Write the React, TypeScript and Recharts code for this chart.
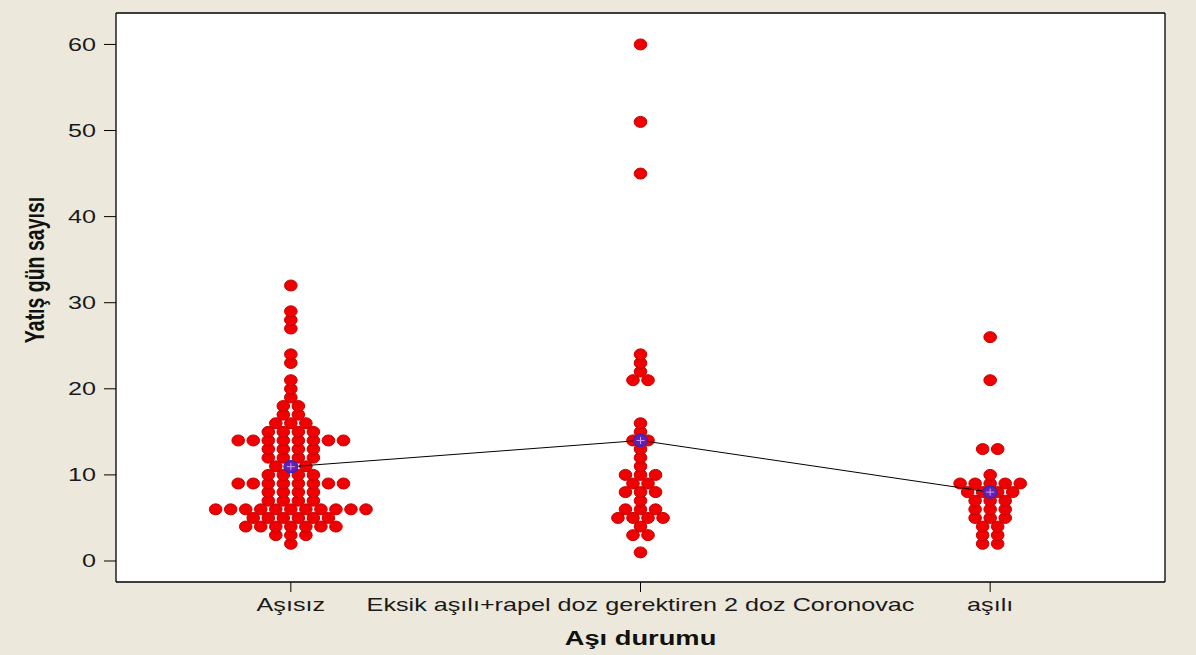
import React from 'react';
import { ScatterChart, Scatter, XAxis, YAxis, CartesianGrid, Label } from 'recharts';

// Categories (x axis)
const CATEGORIES = ['Aşısız', 'Eksik aşılı+rapel doz gerektiren 2 doz Coronovac', 'aşılı'];

// Aşısız: hospital days (value) and how many patients have it (count)
const ASISIZ_VALUES = [2, 3, 4, 5, 6, 7, 8, 9, 10, 11, 12, 13, 14, 15, 16, 17, 18, 19, 20, 21, 23, 24, 27, 28, 29, 32];
const ASISIZ_COUNTS = [1, 3, 7, 6, 11, 4, 4, 8, 4, 3, 4, 4, 8, 4, 3, 2, 2, 1, 1, 1, 1, 1, 1, 1, 1, 1];

// Eksik aşılı + rapel doz gerektiren 2 doz Coronovac
const EKSIK_VALUES = [1, 3, 4, 5, 6, 7, 8, 9, 10, 11, 12, 13, 14, 15, 16, 21, 22, 23, 24, 45, 51, 60];
const EKSIK_COUNTS = [1, 2, 1, 4, 3, 1, 3, 2, 3, 1, 1, 1, 2, 1, 1, 2, 1, 1, 1, 1, 1, 1];

// aşılı
const ASILI_VALUES = [2, 3, 4, 5, 6, 7, 8, 9, 10, 13, 21, 26];
const ASILI_COUNTS = [2, 2, 2, 3, 3, 3, 4, 5, 1, 2, 1, 1];

const Y_TICKS = [0, 10, 20, 30, 40, 50, 60];
const X_TICKS = [0.5, 1.5, 2.5];

const STEP = 0.043; // horizontal stacking step (category units)
const SX = 1.4; // horizontal stretch of text, as in the reference
const FONT = '"Liberation Sans", Arial, sans-serif';

type Pt = { x: number; y: number };

function expand(cat: number, values: number[], counts: number[]): Pt[] {
  const out: Pt[] = [];
  values.forEach((v, i) => {
    const c = counts[i];
    for (let k = 0; k < c; k++) {
      out.push({ x: cat + 0.5 + (k - (c - 1) / 2) * STEP, y: v });
    }
  });
  return out;
}

function mean(values: number[], counts: number[]): number {
  let s = 0;
  let n = 0;
  values.forEach((v, i) => {
    s += v * counts[i];
    n += counts[i];
  });
  return s / n;
}

const POINTS: Pt[] = [
  ...expand(0, ASISIZ_VALUES, ASISIZ_COUNTS),
  ...expand(1, EKSIK_VALUES, EKSIK_COUNTS),
  ...expand(2, ASILI_VALUES, ASILI_COUNTS),
];

const MEANS: Pt[] = [
  { x: 0.5, y: mean(ASISIZ_VALUES, ASISIZ_COUNTS) },
  { x: 1.5, y: mean(EKSIK_VALUES, EKSIK_COUNTS) },
  { x: 2.5, y: mean(ASILI_VALUES, ASILI_COUNTS) },
];

const Dot = (props: any) => {
  const { cx, cy } = props;
  if (cx == null || cy == null) return null;
  return <ellipse cx={cx} cy={cy} rx={6.3} ry={5.5} fill="#f00000" stroke="#c40000" strokeWidth={1} />;
};

const MeanDot = (props: any) => {
  const { cx, cy } = props;
  if (cx == null || cy == null) return null;
  return (
    <g>
      <ellipse cx={cx} cy={cy} rx={7} ry={6} fill="#6a1fa8" stroke="#2a2ac8" strokeWidth={1.2} />
      <line x1={cx - 4} y1={cy} x2={cx + 4} y2={cy} stroke="#c8a0ff" strokeWidth={1} />
      <line x1={cx} y1={cy - 3.5} x2={cx} y2={cy + 3.5} stroke="#c8a0ff" strokeWidth={1} />
    </g>
  );
};

const YTick = (props: any) => {
  const { x, y, payload } = props;
  return (
    <g transform={`translate(${x},${y})`}>
      <text transform={`scale(${SX},1)`} textAnchor="end" dy="0.36em" fontFamily={FONT} fontSize={18} fill="#1a1a1a">
        {payload.value}
      </text>
    </g>
  );
};

const XTick = (props: any) => {
  const { x, y, payload } = props;
  const idx = X_TICKS.indexOf(payload.value);
  return (
    <g transform={`translate(${x},${y})`}>
      <text transform={`scale(${SX},1)`} textAnchor="middle" dy="0.72em" fontFamily={FONT} fontSize={18} fill="#1a1a1a">
        {CATEGORIES[idx] ?? ''}
      </text>
    </g>
  );
};

const XTitle = (props: any) => {
  const vb = props.viewBox || {};
  const cx = vb.x + vb.width / 2;
  const y = vb.y + 63;
  return (
    <g transform={`translate(${cx},${y})`}>
      <text transform={`scale(${SX},1)`} textAnchor="middle" fontFamily={FONT} fontWeight="bold" fontSize={19.5} fill="#111">
        Aşı durumu
      </text>
    </g>
  );
};

const YTitle = (props: any) => {
  const vb = props.viewBox || {};
  const x = vb.x + 44;
  const cy = 270;
  return (
    <g transform={`translate(${x},${cy}) scale(${SX},1) rotate(-90)`}>
      <text textAnchor="middle" fontFamily={FONT} fontWeight="bold" fontSize={19.5} fill="#111">
        Yatış gün sayısı
      </text>
    </g>
  );
};

export default function App() {
  return (
    <div style={{ position: 'absolute', left: 0, top: 0, width: 1196, height: 655, background: '#ece9dc' }}>
      <ScatterChart width={1196} height={655} margin={{ top: 12, right: 30, left: 0, bottom: 0 }}>
        <CartesianGrid fill="#ffffff" stroke="none" horizontal={false} vertical={false} />
        <XAxis
          type="number"
          dataKey="x"
          domain={[0, 3]}
          ticks={X_TICKS}
          allowDataOverflow
          height={73}
          tickSize={10}
          tickMargin={6}
          tick={<XTick />}
          tickLine={{ stroke: '#000' }}
          axisLine={{ stroke: '#000', strokeWidth: 1.3 }}
        >
          <Label content={<XTitle />} />
        </XAxis>
        <YAxis
          type="number"
          dataKey="y"
          domain={[-2.44, 63.65]}
          ticks={Y_TICKS}
          allowDataOverflow
          width={116}
          tickSize={12}
          tickMargin={8}
          tick={<YTick />}
          tickLine={{ stroke: '#000' }}
          axisLine={{ stroke: '#000', strokeWidth: 1.3 }}
        >
          <Label content={<YTitle />} />
        </YAxis>
        <XAxis
          xAxisId="top"
          orientation="top"
          type="number"
          domain={[0, 1]}
          height={1}
          tick={false}
          tickLine={false}
          axisLine={{ stroke: '#000', strokeWidth: 1.3 }}
        />
        <YAxis
          yAxisId="right"
          orientation="right"
          type="number"
          domain={[0, 1]}
          width={1}
          tick={false}
          tickLine={false}
          axisLine={{ stroke: '#000', strokeWidth: 1.3 }}
        />
        <Scatter data={POINTS} shape={<Dot />} isAnimationActive={false} />
        <Scatter
          data={MEANS}
          shape={<MeanDot />}
          line={{ stroke: '#000', strokeWidth: 1 }}
          isAnimationActive={false}
        />
      </ScatterChart>
    </div>
  );
}
